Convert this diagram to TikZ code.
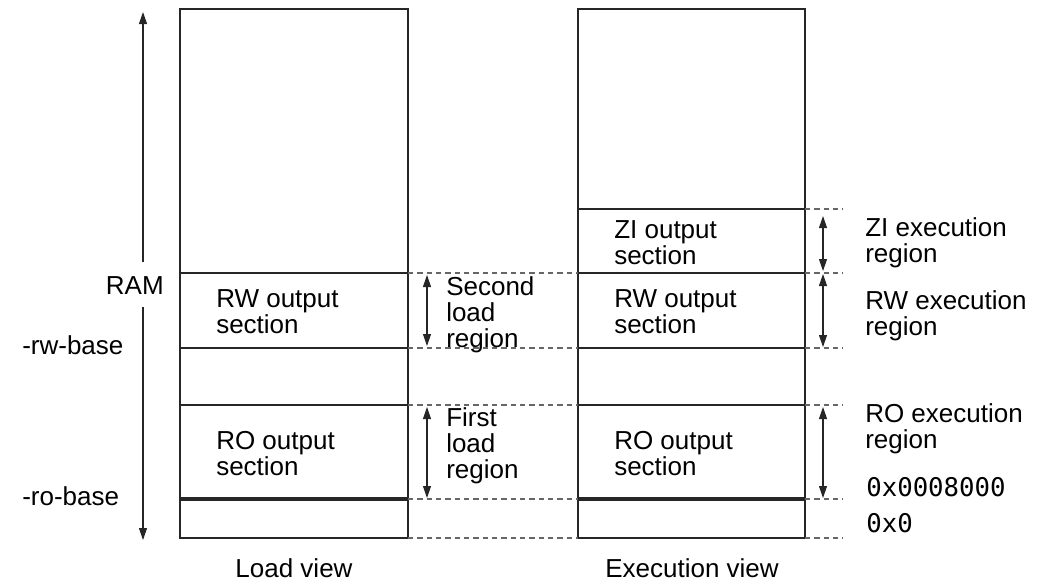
\documentclass[tikz,border=0pt]{standalone}
\usepackage{fontspec}
\setmainfont{Liberation Sans}
\newfontfamily\hexfont{DejaVu Sans Mono}
\usetikzlibrary{arrows.meta}
\begin{document}
\begin{tikzpicture}[x=0.75pt,y=-0.75pt,
  boxline/.style={draw=black!85, line width=1.1pt},
  thickline/.style={draw=black!85, line width=2.4pt},
  dashline/.style={draw=black!60, line width=0.8pt, dash pattern=on 4pt off 3pt},
  dimarrow/.style={draw=black!85, line width=0.8pt, {Triangle[length=9pt,width=6pt]}-{Triangle[length=9pt,width=6pt]}},
  ramarrow/.style={draw=black!85, line width=0.8pt, -{Triangle[length=9pt,width=6pt]}},
  lbl/.style={anchor=west, align=left, inner sep=0pt, font=\fontsize{19.5}{19.5}\selectfont},
  hexlbl/.style={anchor=west, inner sep=0pt, font=\hexfont\fontsize{19.3}{20}\selectfont},
  caption/.style={inner sep=0pt, font=\fontsize{19.5}{19.5}\selectfont}]
\useasboundingbox (0,0) rectangle (1039,583);

% boxes
\draw[boxline] (180,9) rectangle (408,538);
\draw[boxline] (578,9) rectangle (805,538);
% left box separators
\draw[boxline] (180,273) -- (408,273);
\draw[boxline] (180,348) -- (408,348);
\draw[boxline] (180,405) -- (408,405);
\draw[thickline] (180,499) -- (408,499);
% right box separators
\draw[boxline] (578,209) -- (805,209);
\draw[boxline] (578,273) -- (805,273);
\draw[boxline] (578,348) -- (805,348);
\draw[boxline] (578,405) -- (805,405);
\draw[thickline] (578,499) -- (805,499);

% dashed guide lines between boxes
\foreach \yy in {273,348,405,499,538}
  \draw[dashline] (408,\yy) -- (578,\yy);
% dashed guide lines right of right box
\foreach \yy in {209,273,348,405,499,538}
  \draw[dashline] (805,\yy) -- (843,\yy);

% dimension arrows
\coordinate (sl1) at (427,275); \coordinate (sl2) at (427,346);
\coordinate (fl1) at (427,407); \coordinate (fl2) at (427,498);
\coordinate (zi1) at (823,216); \coordinate (zi2) at (823,271);
\coordinate (rw1) at (823,274); \coordinate (rw2) at (823,347);
\coordinate (ro1) at (823,407); \coordinate (ro2) at (823,498);
\draw[dimarrow] (sl1) -- (sl2);
\draw[dimarrow] (fl1) -- (fl2);
\draw[dimarrow] (zi1) -- (zi2);
\draw[dimarrow] (rw1) -- (rw2);
\draw[dimarrow] (ro1) -- (ro2);

% RAM arrow
\coordinate (ramtop) at (143,12);
\coordinate (ramup) at (143,262);
\coordinate (ramdn) at (143,307);
\coordinate (rambot) at (143,540);
\draw[ramarrow] (ramup) -- (ramtop);
\draw[ramarrow] (ramdn) -- (rambot);

% labels in boxes
\node[lbl] (lrw) at (216,312) {RW output\\section};
\node[lbl] (lro) at (216,454) {RO output\\section};
\node[lbl] (rzi) at (614,243) {ZI output\\section};
\node[lbl] (rrw) at (614,312) {RW output\\section};
\node[lbl] (rro) at (614,454) {RO output\\section};

% load region labels
\node[lbl] (second) at (446,315) {Second\\load\\region};
\node[lbl] (first) at (446,446) {First\\load\\region};

% execution region labels
\node[lbl] (zie) at (865,243) {ZI execution\\region};
\node[lbl] (rwe) at (865,316) {RW execution\\region};
\node[lbl] (roe) at (865,429) {RO execution\\region};

% addresses
\node[hexlbl] (a8000) at (866,487) {0x0008000};
\node[hexlbl] (a0) at (866,523) {0x0};

% left labels
\node[caption, anchor=east] (ram) at (164,286) {RAM};
\node[caption, anchor=west] (rwbase) at (22,345) {-rw-base};
\node[caption, anchor=west] (robase) at (22,496) {-ro-base};

% captions
\node[caption] (loadview) at (294,568) {Load view};
\node[caption] (execview) at (692,568) {Execution view};
\end{tikzpicture}
\end{document}
